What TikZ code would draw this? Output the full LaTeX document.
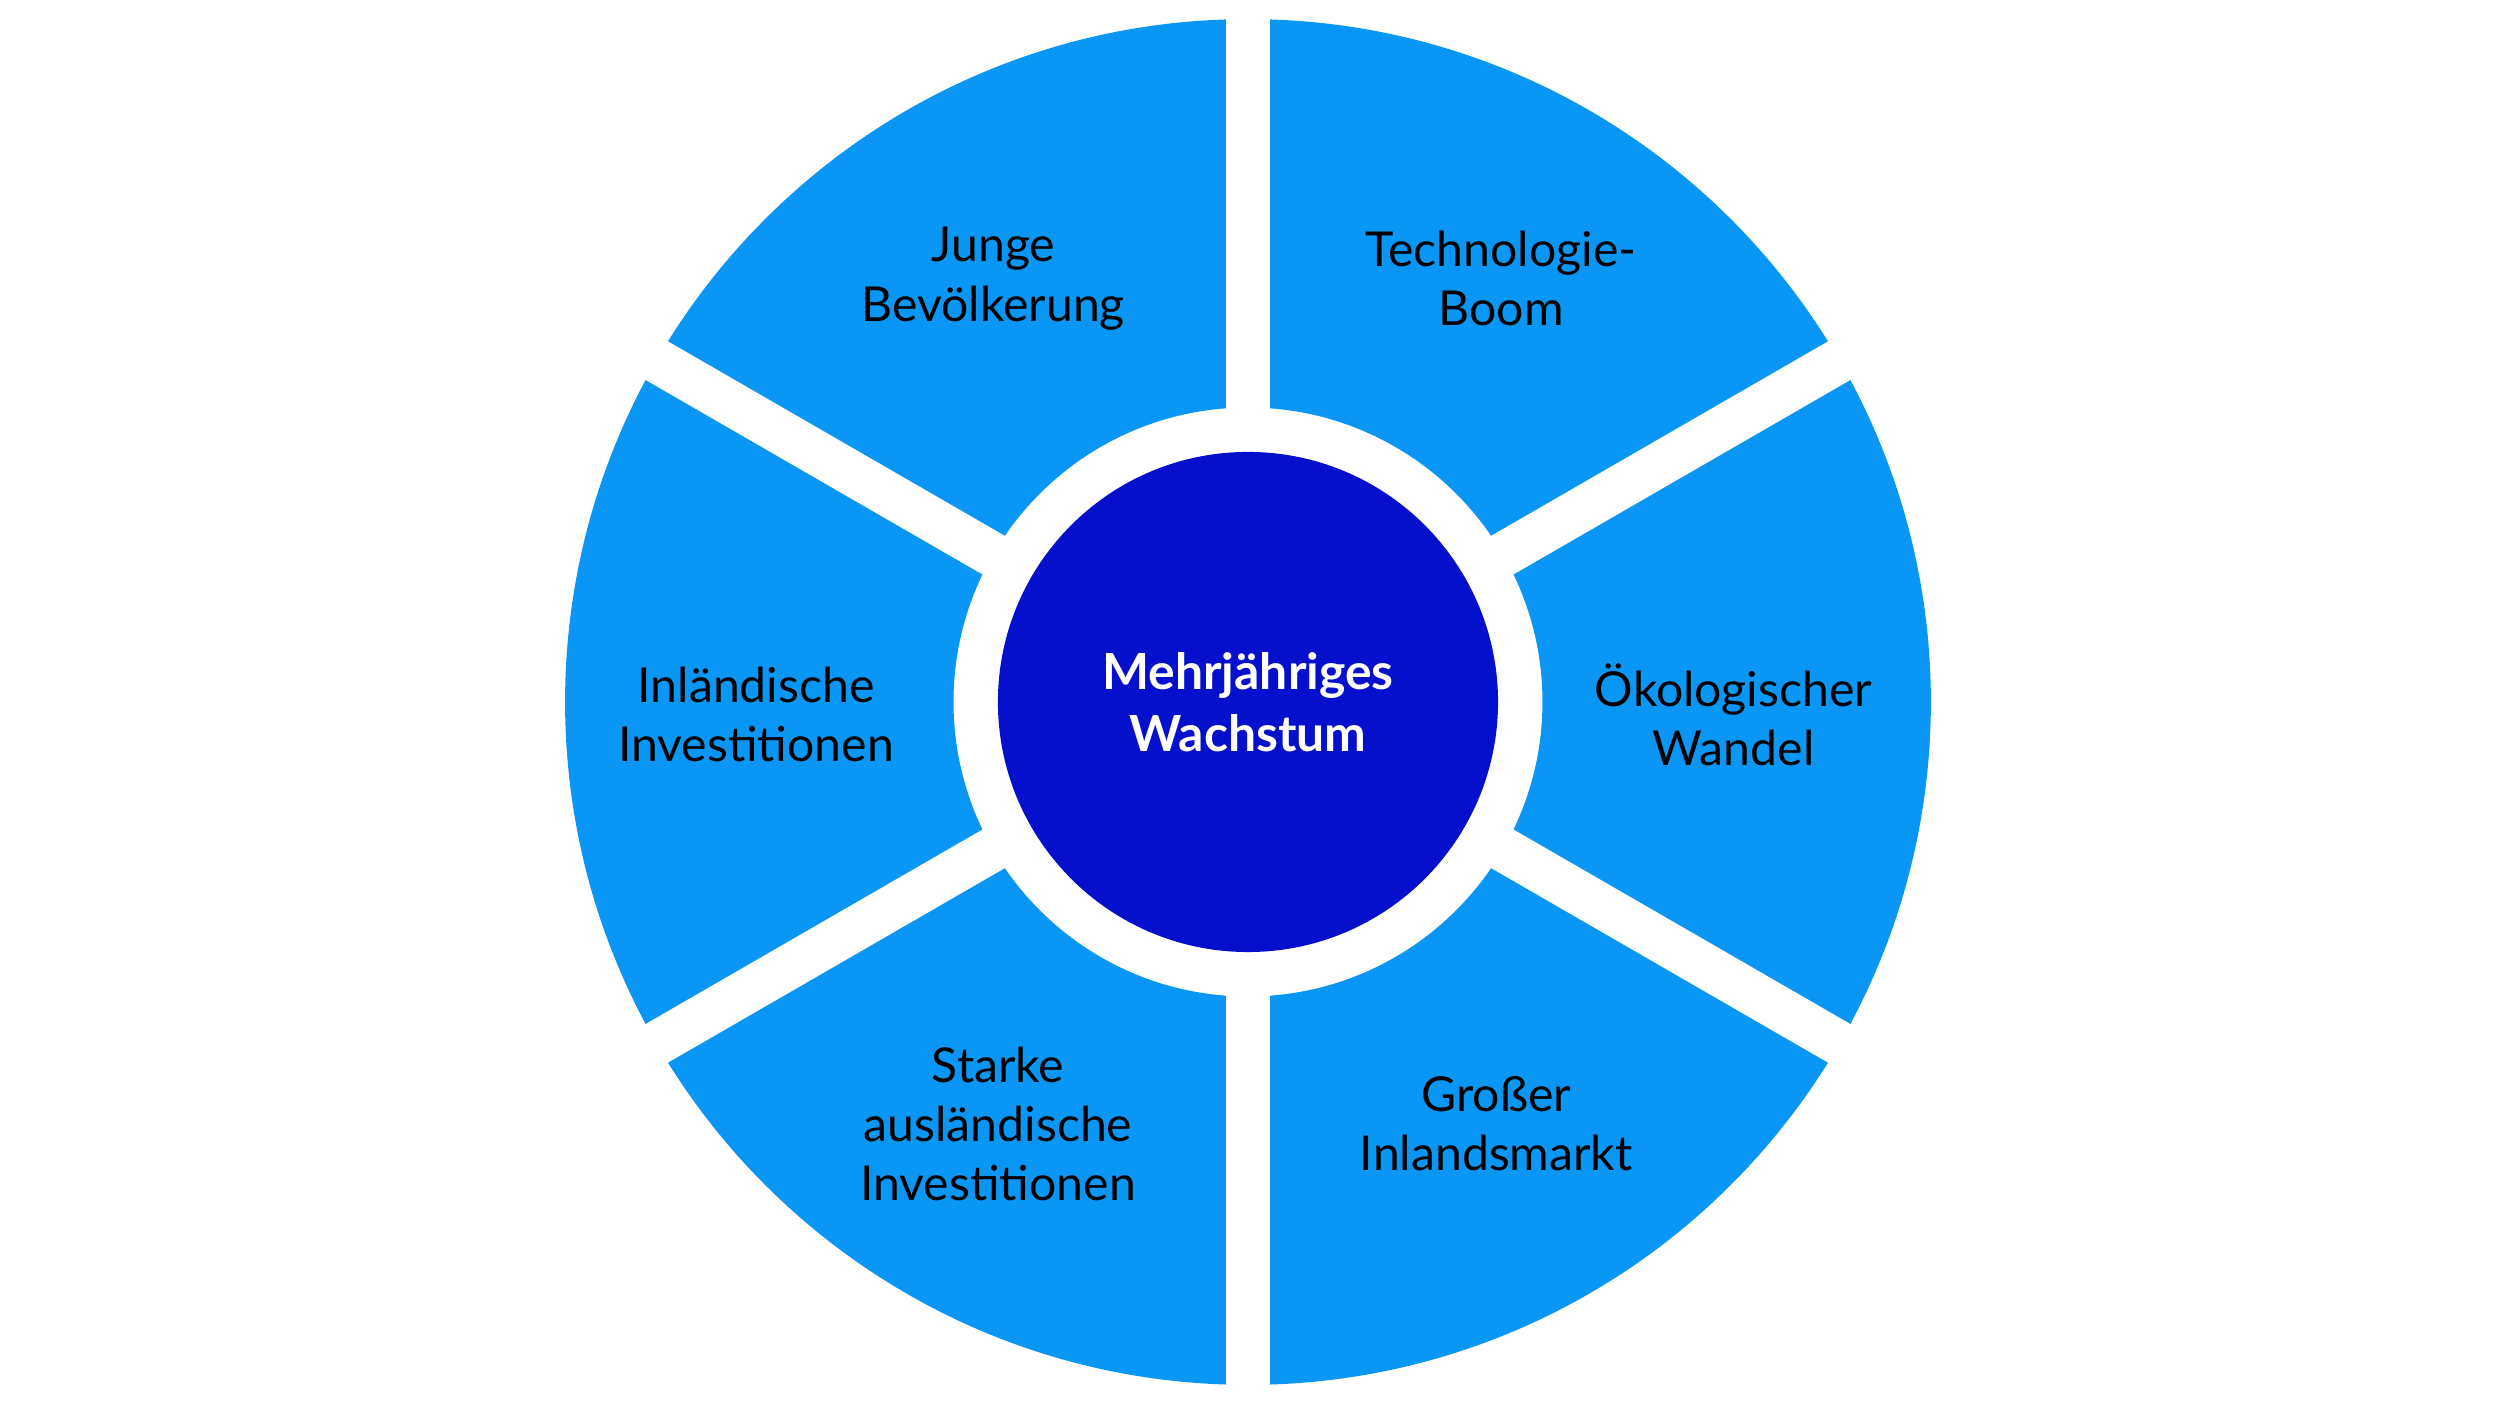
\documentclass[tikz,border=0pt]{standalone}
\usepackage{fontspec}
\setmainfont{Lato}
\usetikzlibrary{positioning}
\definecolor{segblue}{RGB}{10,150,245}
\definecolor{coreblue}{RGB}{4,16,204}
\tikzset{
  driver/.style={font=\fontsize{8.6}{10.6}\selectfont, align=center, text=black},
  gapline/.style={draw=white, line width=0.28cm},
}
\begin{document}
\begin{tikzpicture}[x=0.01cm,y=0.01cm]
\useasboundingbox (-784,-441) rectangle (784,441);

% ---- ring of six segments ----
\fill[segblue, even odd rule] (0,0) circle (429) (0,0) circle (185);
\foreach \a in {30,90,...,330}
  \draw[gapline] (0,0) -- (\a:440);

% ---- centre ----
\node[circle, fill=coreblue, minimum size=3.14cm, inner sep=0pt, align=center,
      text=white, font=\fontsize{8.9}{11}\selectfont\bfseries] (core) at (0,0)
      {Mehrjähriges\\Wachstum};

% ---- labels ----
\node[driver] (young)   at (-160,266)  {Junge\\Bevölkerung};
\node[driver] (tech)    at (159,266)   {Technologie-\\Boom};
\node[driver] (domest)  at (-309,-8)   {Inländische\\Investitionen};
\node[driver] (eco)     at (305,-8)    {Ökologischer\\Wandel};
\node[driver] (foreign) at (-157,-265) {Starke\\ausländische\\Investitionen};
\node[driver] (market)  at (156,-265)  {Großer\\Inlandsmarkt};
\end{tikzpicture}
\end{document}
